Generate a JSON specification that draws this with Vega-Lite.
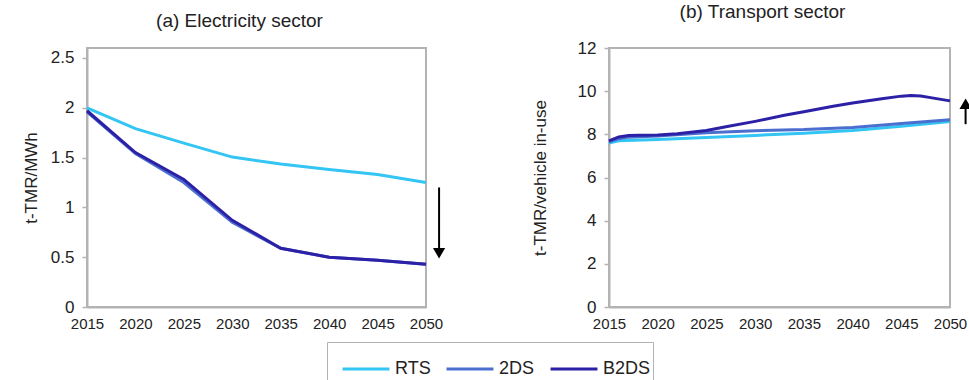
{
  "$schema": "https://vega.github.io/schema/vega-lite/v6.json",
  "padding": {"left": 21, "top": 2, "right": 0, "bottom": 0},
  "background": "white",
  "config": {
    "font": "Liberation Sans",
    "view": {"stroke": "#b3b3b3", "strokeWidth": 2},
    "axis": {"grid": false, "domainColor": "#b3b3b3", "domainWidth": 2, "tickColor": "#b3b3b3", "tickWidth": 1.5, "labelColor": "#222222", "titleColor": "#222222", "titleFontWeight": "normal", "labelFont": "Liberation Sans", "titleFont": "Liberation Sans", "labelFlush": false, "labelBound": false, "labelOverlap": false},
    "title": {"fontSize": 19, "fontWeight": "normal", "color": "#222222", "font": "Liberation Sans"}
  },
  "datasets": {
    "electricity": [
      {"scenario": "RTS", "year": 2015, "value": 2.0},
      {"scenario": "RTS", "year": 2020, "value": 1.79},
      {"scenario": "RTS", "year": 2025, "value": 1.645},
      {"scenario": "RTS", "year": 2030, "value": 1.505},
      {"scenario": "RTS", "year": 2035, "value": 1.435},
      {"scenario": "RTS", "year": 2040, "value": 1.38},
      {"scenario": "RTS", "year": 2045, "value": 1.33},
      {"scenario": "RTS", "year": 2050, "value": 1.25},
      {"scenario": "2DS", "year": 2015, "value": 1.96},
      {"scenario": "2DS", "year": 2020, "value": 1.54},
      {"scenario": "2DS", "year": 2025, "value": 1.25},
      {"scenario": "2DS", "year": 2030, "value": 0.85},
      {"scenario": "2DS", "year": 2035, "value": 0.59},
      {"scenario": "2DS", "year": 2040, "value": 0.5},
      {"scenario": "2DS", "year": 2045, "value": 0.47},
      {"scenario": "2DS", "year": 2050, "value": 0.43},
      {"scenario": "B2DS", "year": 2015, "value": 1.97},
      {"scenario": "B2DS", "year": 2020, "value": 1.55},
      {"scenario": "B2DS", "year": 2025, "value": 1.28},
      {"scenario": "B2DS", "year": 2030, "value": 0.87},
      {"scenario": "B2DS", "year": 2035, "value": 0.59},
      {"scenario": "B2DS", "year": 2040, "value": 0.5},
      {"scenario": "B2DS", "year": 2045, "value": 0.47},
      {"scenario": "B2DS", "year": 2050, "value": 0.43}
    ],
    "transport": [
      {"scenario": "RTS", "year": 2015, "value": 7.6},
      {"scenario": "RTS", "year": 2016, "value": 7.7},
      {"scenario": "RTS", "year": 2020, "value": 7.76},
      {"scenario": "RTS", "year": 2025, "value": 7.85},
      {"scenario": "RTS", "year": 2030, "value": 7.95},
      {"scenario": "RTS", "year": 2035, "value": 8.05},
      {"scenario": "RTS", "year": 2040, "value": 8.18},
      {"scenario": "RTS", "year": 2045, "value": 8.38},
      {"scenario": "RTS", "year": 2050, "value": 8.6},
      {"scenario": "2DS", "year": 2015, "value": 7.65},
      {"scenario": "2DS", "year": 2016, "value": 7.8},
      {"scenario": "2DS", "year": 2017, "value": 7.87},
      {"scenario": "2DS", "year": 2020, "value": 7.92},
      {"scenario": "2DS", "year": 2025, "value": 8.07},
      {"scenario": "2DS", "year": 2030, "value": 8.17},
      {"scenario": "2DS", "year": 2035, "value": 8.22},
      {"scenario": "2DS", "year": 2040, "value": 8.32},
      {"scenario": "2DS", "year": 2045, "value": 8.5},
      {"scenario": "2DS", "year": 2050, "value": 8.68},
      {"scenario": "B2DS", "year": 2015, "value": 7.7},
      {"scenario": "B2DS", "year": 2016, "value": 7.88},
      {"scenario": "B2DS", "year": 2017, "value": 7.95},
      {"scenario": "B2DS", "year": 2018, "value": 7.96},
      {"scenario": "B2DS", "year": 2020, "value": 7.97},
      {"scenario": "B2DS", "year": 2022, "value": 8.03},
      {"scenario": "B2DS", "year": 2025, "value": 8.18},
      {"scenario": "B2DS", "year": 2027, "value": 8.35},
      {"scenario": "B2DS", "year": 2030, "value": 8.6},
      {"scenario": "B2DS", "year": 2033, "value": 8.88},
      {"scenario": "B2DS", "year": 2035, "value": 9.05},
      {"scenario": "B2DS", "year": 2038, "value": 9.3},
      {"scenario": "B2DS", "year": 2040, "value": 9.45},
      {"scenario": "B2DS", "year": 2043, "value": 9.65},
      {"scenario": "B2DS", "year": 2045, "value": 9.77},
      {"scenario": "B2DS", "year": 2046, "value": 9.8},
      {"scenario": "B2DS", "year": 2047, "value": 9.78},
      {"scenario": "B2DS", "year": 2048, "value": 9.7},
      {"scenario": "B2DS", "year": 2050, "value": 9.55}
    ],
    "arrowA": [{"year": 2051.35, "start": 1.2, "end": 0.58, "head": 0.54}],
    "arrowB": [{"year": 2051.6, "start": 8.47, "end": 9.3, "head": 9.42}]
  },
  "hconcat": [
    {
      "width": 339,
      "height": 259,
      "title": {"text": "(a) Electricity sector", "frame": "group", "dx": -17, "offset": 17},
      "layer": [
        {
          "data": {"name": "electricity"},
          "mark": {"type": "line", "strokeWidth": 3},
          "encoding": {
            "x": {"field": "year", "type": "quantitative", "scale": {"domain": [2015, 2050], "nice": false, "zero": false}, "axis": {"values": [2015, 2020, 2025, 2030, 2035, 2040, 2045, 2050], "format": "d", "title": null, "ticks": false, "tickSize": 0, "labelFontSize": 15, "labelPadding": 9}},
            "y": {"field": "value", "type": "quantitative", "scale": {"domain": [0, 2.5]}, "axis": {"values": [0, 0.5, 1, 1.5, 2, 2.5], "format": "~g", "title": "t-TMR/MWh", "tickSize": 5, "labelFontSize": 17, "labelPadding": 8, "titleFontSize": 17, "titlePadding": 10}},
            "color": {"field": "scenario", "type": "nominal", "scale": {"domain": ["RTS", "2DS", "B2DS"], "range": ["#33c5f3", "#4b6fcf", "#2c20a6"]},
              "legend": {"orient": "none", "legendX": 240, "legendY": 294, "direction": "horizontal", "title": null, "strokeColor": "#b3b3b3", "padding": 2, "symbolOffset": 12, "symbolType": "stroke", "symbolSize": 2200, "symbolStrokeWidth": 3, "labelFontSize": 18, "labelColor": "#222222", "columnPadding": 2, "labelOffset": 4}}
          }
        },
        {
          "data": {"name": "arrowA"},
          "mark": {"type": "rule", "strokeWidth": 2, "color": "black"},
          "encoding": {"x": {"field": "year", "type": "quantitative"}, "y": {"field": "start", "type": "quantitative"}, "y2": {"field": "end"}}
        },
        {
          "data": {"name": "arrowA"},
          "mark": {"type": "point", "shape": "triangle-down", "filled": true, "size": 150, "color": "black", "opacity": 1},
          "encoding": {"x": {"field": "year", "type": "quantitative"}, "y": {"field": "head", "type": "quantitative"}}
        }
      ]
    },
    {
      "width": 341,
      "height": 259,
      "title": {"text": "(b) Transport sector", "frame": "group", "dx": -17, "offset": 17},
      "layer": [
        {
          "data": {"name": "transport"},
          "mark": {"type": "line", "strokeWidth": 3},
          "encoding": {
            "x": {"field": "year", "type": "quantitative", "scale": {"domain": [2015, 2050], "nice": false, "zero": false}, "axis": {"values": [2015, 2020, 2025, 2030, 2035, 2040, 2045, 2050], "format": "d", "title": null, "ticks": false, "tickSize": 0, "labelFontSize": 15, "labelPadding": 9}},
            "y": {"field": "value", "type": "quantitative", "scale": {"domain": [0, 12]}, "axis": {"values": [0, 2, 4, 6, 8, 10, 12], "format": "~g", "title": "t-TMR/vehicle in-use", "tickSize": 5, "labelFontSize": 17, "labelPadding": 8, "titleFontSize": 17, "titlePadding": 28}},
            "color": {"field": "scenario", "type": "nominal", "scale": {"domain": ["RTS", "2DS", "B2DS"], "range": ["#33c5f3", "#4b6fcf", "#2c20a6"]}, "legend": null}
          }
        },
        {
          "data": {"name": "arrowB"},
          "mark": {"type": "rule", "strokeWidth": 2, "color": "black"},
          "encoding": {"x": {"field": "year", "type": "quantitative"}, "y": {"field": "start", "type": "quantitative"}, "y2": {"field": "end"}}
        },
        {
          "data": {"name": "arrowB"},
          "mark": {"type": "point", "shape": "triangle-up", "filled": true, "size": 150, "color": "black", "opacity": 1},
          "encoding": {"x": {"field": "year", "type": "quantitative"}, "y": {"field": "head", "type": "quantitative"}}
        }
      ]
    }
  ],
  "spacing": 183,
  "bounds": "flush"
}
